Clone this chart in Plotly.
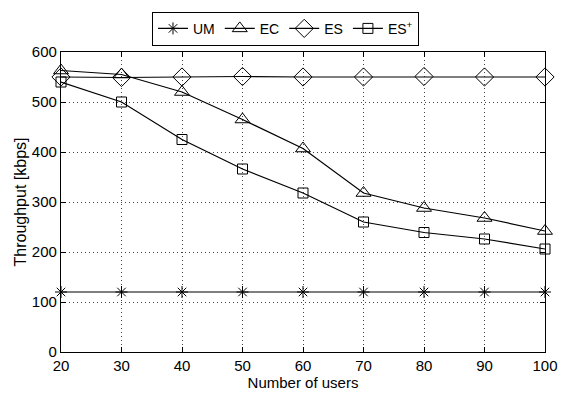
import plotly.graph_objects as go

users = [20, 30, 40, 50, 60, 70, 80, 90, 100]
um = [120, 120, 120, 120, 120, 120, 120, 120, 120]
ec = [563, 555, 520, 465, 407, 318, 288, 268, 242]
es = [550, 549, 550, 551, 550, 550, 551, 550, 550]
es_plus = [540, 500, 425, 366, 318, 260, 239, 226, 206]
y_ticks = [0, 100, 200, 300, 400, 500, 600]

series = [
    ("UM", um, "asterisk-open", 10),
    ("EC", ec, "triangle-up-open", 13),
    ("ES", es, "diamond-open", 14),
    ("ES<sup>+</sup>", es_plus, "square-open", 10),
]

fig = go.Figure()
for name, vals, sym, sz in series:
    fig.add_trace(go.Scatter(
        x=users, y=vals, name=name, mode="lines+markers",
        line=dict(color="black", width=1.2),
        marker=dict(symbol=sym, size=sz, color="black", line=dict(color="black", width=1)),
        cliponaxis=False,
    ))

fam = "Liberation Sans, Arial, sans-serif"
axis_common = dict(
    ticks="inside", ticklen=5, tickcolor="black",
    showline=True, linecolor="black", linewidth=1.2, mirror="ticks",
    showgrid=True, gridcolor="#444", griddash="1px,3px", gridwidth=1,
    zeroline=False, automargin=False,
    tickfont=dict(family=fam, size=15, color="black"),
)
fig.update_layout(
    width=570, height=396,
    margin=dict(l=61, r=25, t=46, b=44),
    paper_bgcolor="white", plot_bgcolor="white",
    font=dict(family=fam, size=14, color="black"),
    showlegend=True,
    legend=dict(
        orientation="h", x=0.188, xanchor="left", y=1.134, yanchor="top",
        bordercolor="black", borderwidth=1, bgcolor="white",
        font=dict(family=fam, size=14, color="black"),
        tracegroupgap=0,
    ),
    xaxis=dict(
        range=[20, 100], tickvals=users,
        title=dict(text="Number of users", standoff=0, font=dict(family=fam, size=15)),
        **axis_common,
    ),
    yaxis=dict(
        range=[0, 600], tickvals=y_ticks,
        title=dict(text="Throughput [kbps]", standoff=1, font=dict(family=fam, size=16)),
        **axis_common,
    ),
)
fig.write_html(
    "out.html",
    config={"displayModeBar": False},
    post_script="document.body.style.margin='0';document.body.style.padding='0';",
)
